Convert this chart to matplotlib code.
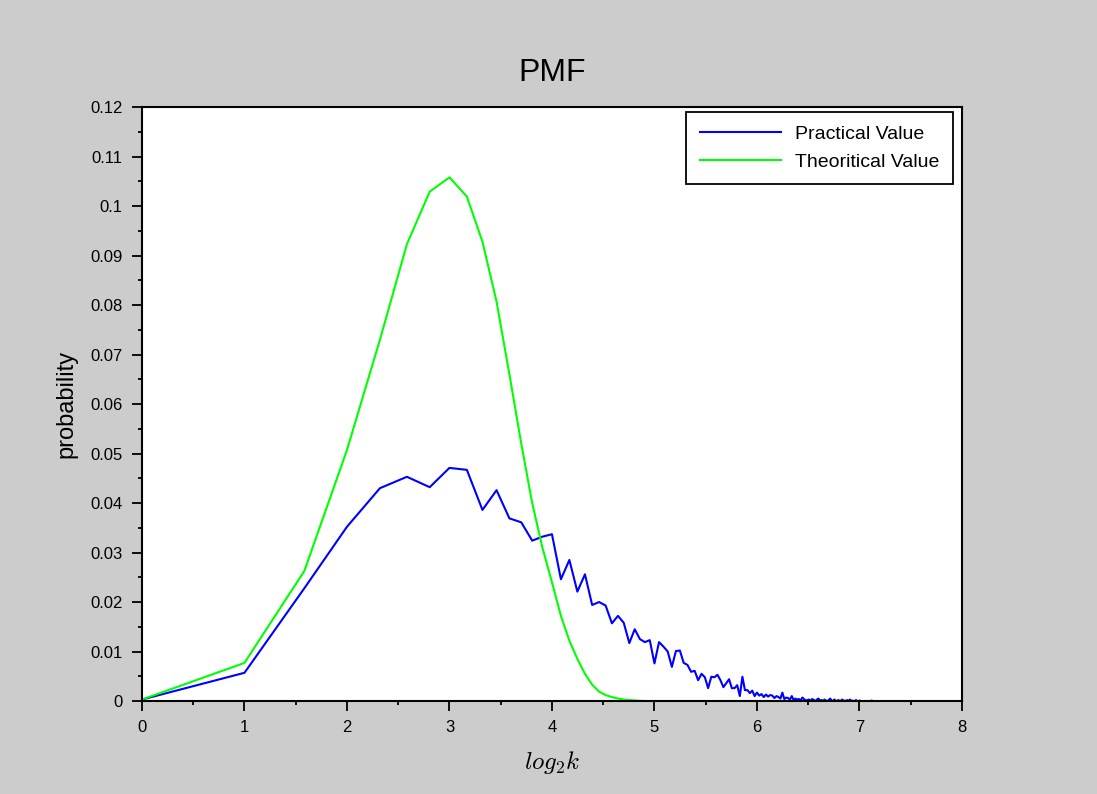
import numpy as np
import matplotlib
matplotlib.use("Agg")
import matplotlib.pyplot as plt
from matplotlib.ticker import MultipleLocator

# k = 1 .. 140, plotted against log2(k)
k = np.arange(1, 141)

practical = [
    0.0003, 0.0057, 0.0228, 0.0352, 0.0430, 0.0453, 0.0432, 0.0471, 0.0467, 0.0386,
    0.0426, 0.0369, 0.0361, 0.0324, 0.0332, 0.0337, 0.0246, 0.0285, 0.0221, 0.0256,
    0.0194, 0.0200, 0.0193, 0.0157, 0.0172, 0.0158, 0.0117, 0.0145, 0.0125, 0.0119,
    0.0123, 0.0076, 0.0119, 0.0110, 0.0100, 0.0069, 0.0101, 0.0102, 0.0077, 0.0073,
    0.0059, 0.0061, 0.0042, 0.0055, 0.0048, 0.0026, 0.0049, 0.0048, 0.0053, 0.0042,
    0.0028, 0.0036, 0.0044, 0.0026, 0.0026, 0.0032, 0.0010, 0.0049, 0.0022, 0.0022,
    0.0016, 0.0021, 0.0010, 0.0017, 0.0011, 0.0014, 0.0008, 0.0013, 0.0009, 0.0012,
    0.0011, 0.0006, 0.0010, 0.0008, 0.0005, 0.0017, 0.0004, 0.0007, 0.0006, 0.0003,
    0.0010, 0.0002, 0.0005, 0.0003, 0.0004, 0.0001, 0.0007, 0.0004, 0.0001, 0.0002,
    0.0003, 0.0001, 0.0004, 0.0002, 0.0000, 0.0003, 0.0005, 0.0001, 0.0002, 0.0000,
    0.0003, 0.0001, 0.0000, 0.0002, 0.0005, 0.0001, 0.0000, 0.0003, 0.0001, 0.0000,
    0.0002, 0.0000, 0.0001, 0.0003, 0.0000, 0.0001, 0.0000, 0.0002, 0.0000, 0.0003,
    0.0000, 0.0001, 0.0000, 0.0000, 0.0002, 0.0000, 0.0000, 0.0001, 0.0000, 0.0000,
    0.0000, 0.0000, 0.0000, 0.0000, 0.0000, 0.0000, 0.0000, 0.0000, 0.0001, 0.0000,
]

# theoretical PMF, zero past k = 29
theoretical = [
    0.0003, 0.0077, 0.0263, 0.0507, 0.0730, 0.0923, 0.1029, 0.1058, 0.1019, 0.0928,
    0.0807, 0.0660, 0.0520, 0.0400, 0.0310, 0.0240, 0.0172, 0.0122, 0.0085, 0.0055,
    0.0033, 0.0019, 0.0012, 0.0008, 0.0005, 0.0003, 0.0002, 0.0001, 0.00005,
] + [0.0] * 111

plt.rcParams["font.family"] = ["Liberation Sans", "DejaVu Sans"]
plt.rcParams["mathtext.fontset"] = "cm"

fig = plt.figure(figsize=(10.97, 7.94), dpi=100, facecolor="#cccccc")
ax = fig.add_axes([0.1294, 0.1171, 0.7475, 0.7481])
ax.set_facecolor("white")

x = np.log2(k)
ax.plot(x, practical, color="#0000ff", lw=1.5, label="Practical Value")
ax.plot(x, theoretical, color="#00ff00", lw=1.5, label="Theoritical Value")

ax.set_xlim(0, 8)
ax.set_ylim(0, 0.12)
ax.xaxis.set_major_locator(MultipleLocator(1))
ax.xaxis.set_minor_locator(MultipleLocator(0.5))
ax.yaxis.set_major_locator(MultipleLocator(0.01))
ax.yaxis.set_minor_locator(MultipleLocator(0.005))
ax.set_yticks(np.arange(0, 0.121, 0.01))
ax.set_yticklabels(["0", "0.01", "0.02", "0.03", "0.04", "0.05", "0.06",
                    "0.07", "0.08", "0.09", "0.1", "0.11", "0.12"])

for s in ["left", "bottom", "top", "right"]:
    ax.spines[s].set_linewidth(1.5)
ax.tick_params(which="major", direction="out", length=7, width=1.3,
               labelsize=12, pad=7)
ax.tick_params(which="minor", direction="out", length=3, width=1.3)
ax.tick_params(top=False, right=False, which="both")

ax.set_title("PMF", fontsize=23, pad=19)
ax.set_ylabel("probability", fontsize=17, labelpad=9)
ax.set_xlabel(r"$log_2k$", fontsize=18, labelpad=10)

leg = ax.legend(loc="upper right", bbox_to_anchor=(0.989, 0.9916), borderaxespad=0,
                fontsize=14, handlelength=4.2, handletextpad=0.72,
                fancybox=False, framealpha=1, edgecolor="black",
                borderpad=0.68, labelspacing=0.55)
leg.get_frame().set_linewidth(1.3)

fig.savefig("out.png", dpi=100, facecolor=fig.get_facecolor())
